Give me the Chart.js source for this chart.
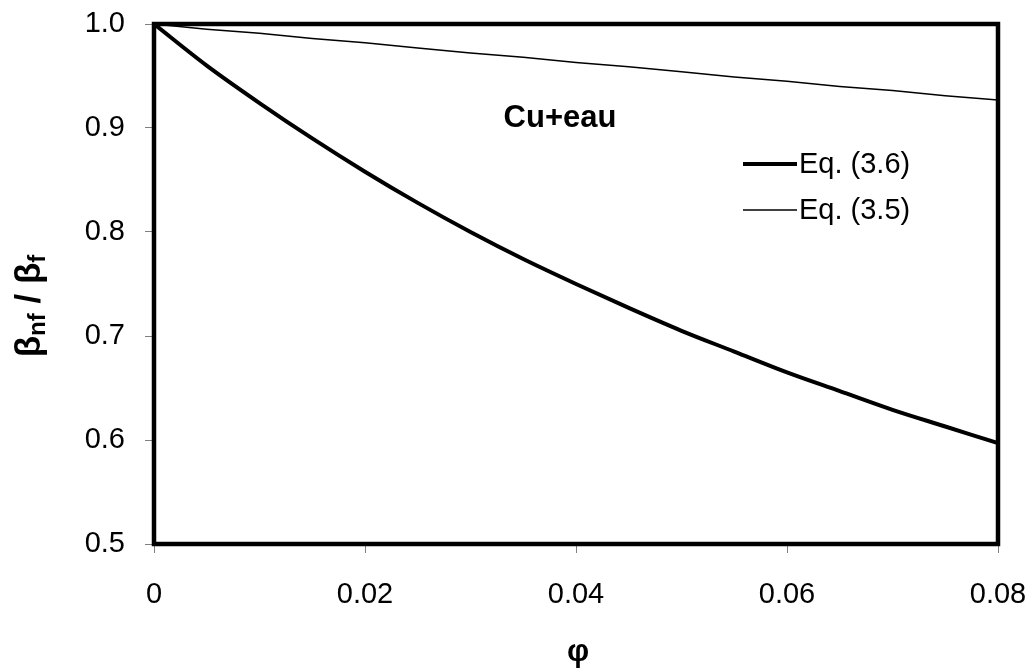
<!DOCTYPE html>
<html>
<head>
<meta charset="utf-8">
<script src="https://cdn.jsdelivr.net/npm/chart.js@4.4.1/dist/chart.umd.min.js"></script>
<style>
  html, body { margin: 0; padding: 0; background: #fff; }
  #wrap { width: 1034px; height: 671px; }
</style>
</head>
<body>
<div id="wrap"><canvas id="c" width="1034" height="671"></canvas></div>
<script>
// Volume fraction of Cu particles
const phi = [0, 0.005, 0.01, 0.015, 0.02, 0.025, 0.03, 0.035, 0.04,
             0.045, 0.05, 0.055, 0.06, 0.065, 0.07, 0.075, 0.08];
// Thermal expansion ratio beta_nf / beta_f
const eq36 = [1.000, 0.960, 0.924, 0.890, 0.858, 0.828, 0.800, 0.774, 0.750,
              0.727, 0.705, 0.685, 0.665, 0.647, 0.629, 0.613, 0.597];
const eq35 = [1.000, 0.995, 0.991, 0.986, 0.982, 0.977, 0.972, 0.968, 0.963,
              0.959, 0.954, 0.949, 0.945, 0.940, 0.936, 0.931, 0.927];
const seriesNames = ['Eq. (3.6)', 'Eq. (3.5)'];
const xTickLabels = ['0', '0.02', '0.04', '0.06', '0.08'];
const yTickLabels = ['0.5', '0.6', '0.7', '0.8', '0.9', '1.0'];
const caseLabel = 'Cu+eau';

const FONT = '"Liberation Sans", Arial, sans-serif';

function pts(xs, ys) { return xs.map((x, i) => ({ x: x, y: ys[i] })); }
function pickLabel(list, v) {
  const hit = list.find(l => Math.abs(parseFloat(l) - v) < 1e-9);
  return hit === undefined ? '' : hit;
}
// keep edge tick labels from pushing the plot area inwards
function noEdgePadding(scale) {
  scale.paddingTop = 0;
  scale.paddingBottom = 0;
  scale.paddingLeft = 0;
  scale.paddingRight = 0;
}

// Plot frame, legend, annotation and axis titles
const decorations = {
  id: 'decorations',
  afterDatasetsDraw(chart) {
    const ctx = chart.ctx;
    const a = chart.chartArea;
    ctx.save();
    // heavy frame around the plot area
    ctx.strokeStyle = '#000';
    ctx.lineWidth = 4.5;
    ctx.lineJoin = 'miter';
    ctx.strokeRect(a.left, a.top, a.right - a.left, a.bottom - a.top);

    // legend
    ctx.fillStyle = '#000';
    ctx.font = '29px ' + FONT;
    ctx.textAlign = 'left';
    ctx.textBaseline = 'middle';
    const rows = [164, 210];
    chart.data.datasets.forEach((ds, i) => {
      ctx.strokeStyle = ds.borderColor;
      ctx.lineWidth = ds.borderWidth;
      ctx.beginPath();
      ctx.moveTo(743, rows[i]);
      ctx.lineTo(797, rows[i]);
      ctx.stroke();
      ctx.fillText(ds.label, 799, rows[i] + 1);
    });

    // case label
    ctx.font = 'bold 31px ' + FONT;
    ctx.textAlign = 'center';
    ctx.fillText(caseLabel, 560, 118);

    // x-axis title
    ctx.font = 'bold 31px ' + FONT;
    ctx.fillText('\u03c6', 578, 652);

    // y-axis title with subscripts
    const parts = [
      { t: '\u03b2', f: 'bold 35px ' + FONT, dy: 0 },
      { t: 'nf', f: 'bold 24px ' + FONT, dy: 8 },
      { t: ' / ', f: 'bold 35px ' + FONT, dy: 0 },
      { t: '\u03b2', f: 'bold 35px ' + FONT, dy: 0 },
      { t: 'f', f: 'bold 24px ' + FONT, dy: 8 }
    ];
    let total = 0;
    parts.forEach(p => { ctx.font = p.f; p.w = ctx.measureText(p.t).width; total += p.w; });
    ctx.translate(30, 306);
    ctx.rotate(-Math.PI / 2);
    ctx.textAlign = 'left';
    ctx.textBaseline = 'middle';
    let x = -total / 2;
    parts.forEach(p => {
      ctx.font = p.f;
      ctx.fillText(p.t, x, p.dy);
      x += p.w;
    });
    ctx.restore();
  }
};

new Chart(document.getElementById('c'), {
  type: 'line',
  data: {
    datasets: [
      {
        label: seriesNames[0],
        data: pts(phi, eq36),
        borderColor: '#000',
        borderWidth: 4,
        pointRadius: 0,
        cubicInterpolationMode: 'monotone',
        fill: false
      },
      {
        label: seriesNames[1],
        data: pts(phi, eq35),
        borderColor: '#000',
        borderWidth: 1.5,
        pointRadius: 0,
        fill: false
      }
    ]
  },
  options: {
    responsive: false,
    animation: false,
    events: [],
    layout: { padding: { top: 24, right: 36, left: 0, bottom: 0 } },
    plugins: {
      legend: { display: false },
      tooltip: { enabled: false },
      title: { display: false }
    },
    scales: {
      x: {
        type: 'linear',
        min: 0,
        max: 0.08,
        afterFit(scale) { scale.height = 127; noEdgePadding(scale); },
        afterBuildTicks(scale) {
          scale.ticks = xTickLabels.map(l => ({ value: parseFloat(l) }));
        },
        ticks: {
          color: '#000',
          font: { family: FONT, size: 29 },
          padding: 25,
          maxRotation: 0,
          autoSkip: false,
          callback: v => pickLabel(xTickLabels, v)
        },
        grid: {
          display: true,
          drawOnChartArea: false,
          drawTicks: true,
          tickLength: 9,
          tickWidth: 1,
          tickColor: '#7f7f7f'
        },
        border: { display: false }
      },
      y: {
        type: 'linear',
        min: 0.5,
        max: 1.0,
        afterFit(scale) { scale.width = 154; noEdgePadding(scale); },
        afterBuildTicks(scale) {
          scale.ticks = yTickLabels.map(l => ({ value: parseFloat(l) }));
        },
        ticks: {
          color: '#000',
          font: { family: FONT, size: 29 },
          padding: 20,
          autoSkip: false,
          callback: v => pickLabel(yTickLabels, v)
        },
        grid: {
          display: true,
          drawOnChartArea: false,
          drawTicks: true,
          tickLength: 9,
          tickWidth: 1,
          tickColor: '#7f7f7f'
        },
        border: { display: false }
      }
    }
  },
  plugins: [decorations]
});
</script>
</body>
</html>
